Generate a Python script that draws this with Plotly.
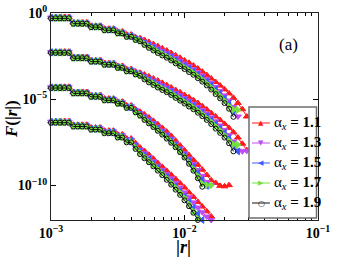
import plotly.graph_objects as go

# |r| sample positions (shared by all curves)
r = [0.001000, 0.001080, 0.001166, 0.001259, 0.001359, 0.001468, 0.001585, 0.001711,
     0.001848, 0.001995, 0.002154, 0.002326, 0.002512, 0.002712, 0.002929, 0.003162,
     0.003415, 0.003687, 0.003981, 0.004299, 0.004642, 0.005012, 0.005412, 0.005843,
     0.006310, 0.006813, 0.007356, 0.007943, 0.008577, 0.009261, 0.01000, 0.01080,
     0.01166, 0.01259, 0.01359, 0.01468, 0.01585, 0.01711, 0.01848, 0.01995, 0.02154,
     0.02326, 0.02512, 0.02712, 0.02929, 0.03162]

alpha_labels = ["1.1", "1.3", "1.5", "1.7", "1.9"]

# log10 F(|r|) values, four families of curves (top to bottom)
# ---- family 1
g1_a11 = [-0.24, -0.24, -0.24, -0.24, -0.24, -0.55, -0.55, -0.55, -0.55, -0.74, -0.74, -0.74,
          -0.91, -0.91, -0.91, -1.07, -1.07, -1.25, -1.25, -1.40, -1.46, -1.57, -1.68, -1.80,
          -1.92, -2.05, -2.18, -2.32, -2.46, -2.60, -2.75, -2.89, -3.05, -3.22, -3.40, -3.60,
          -3.80, -4.00, -4.21, -4.43, -4.66, -4.92, -5.22, -5.58, -6.00]
g1_a13 = [-0.26, -0.26, -0.26, -0.26, -0.26, -0.57, -0.57, -0.57, -0.57, -0.77, -0.77, -0.77,
          -0.94, -0.94, -0.94, -1.11, -1.11, -1.30, -1.30, -1.46, -1.52, -1.67, -1.80, -1.93,
          -2.06, -2.19, -2.32, -2.47, -2.62, -2.77, -2.93, -3.09, -3.26, -3.44, -3.63, -3.83,
          -4.05, -4.28, -4.52, -4.78, -5.08, -5.45, -6.00]
g1_a15 = [-0.28, -0.28, -0.28, -0.28, -0.28, -0.59, -0.59, -0.59, -0.59, -0.79, -0.79, -0.79,
          -0.96, -0.96, -0.96, -1.14, -1.14, -1.33, -1.33, -1.50, -1.57, -1.74, -1.88, -2.02,
          -2.16, -2.29, -2.43, -2.58, -2.74, -2.89, -3.05, -3.22, -3.39, -3.57, -3.77, -3.98,
          -4.20, -4.44, -4.68, -4.95, -5.28, -5.72]
g1_a17 = [-0.30, -0.30, -0.30, -0.30, -0.30, -0.61, -0.61, -0.61, -0.61, -0.81, -0.81, -0.81,
          -0.98, -0.98, -0.98, -1.16, -1.16, -1.36, -1.36, -1.53, -1.60, -1.79, -1.95, -2.09,
          -2.24, -2.37, -2.51, -2.66, -2.83, -2.99, -3.15, -3.32, -3.48, -3.67, -3.87, -4.09,
          -4.32, -4.57, -4.82, -5.10, -5.40, -5.60, -5.62]
g1_a19 = [-0.31, -0.31, -0.31, -0.31, -0.31, -0.62, -0.62, -0.62, -0.62, -0.82, -0.82, -0.82,
          -1.00, -1.00, -1.00, -1.18, -1.18, -1.38, -1.38, -1.56, -1.64, -1.85, -2.02, -2.17,
          -2.32, -2.46, -2.59, -2.75, -2.92, -3.08, -3.25, -3.42, -3.58, -3.78, -3.98, -4.20,
          -4.44, -4.70, -4.95, -5.22, -5.55, -6.02]
# ---- family 2
g2_a11 = [-2.24, -2.24, -2.24, -2.24, -2.24, -2.55, -2.55, -2.55, -2.55, -2.74, -2.74, -2.74,
          -2.91, -2.91, -2.91, -3.07, -3.07, -3.25, -3.25, -3.40, -3.46, -3.57, -3.68, -3.80,
          -3.92, -4.05, -4.18, -4.32, -4.46, -4.60, -4.75, -4.89, -5.05, -5.22, -5.40, -5.60,
          -5.80, -6.00, -6.21, -6.43, -6.66, -6.92, -7.22, -7.58, -7.95]
g2_a13 = [-2.26, -2.26, -2.26, -2.26, -2.26, -2.57, -2.57, -2.57, -2.57, -2.77, -2.77, -2.77,
          -2.94, -2.94, -2.94, -3.11, -3.11, -3.30, -3.30, -3.46, -3.52, -3.67, -3.80, -3.93,
          -4.06, -4.19, -4.32, -4.47, -4.62, -4.77, -4.93, -5.09, -5.26, -5.44, -5.63, -5.83,
          -6.05, -6.28, -6.52, -6.78, -7.08, -7.45, -7.98, -8.02, -7.99]
g2_a15 = [-2.28, -2.28, -2.28, -2.28, -2.28, -2.59, -2.59, -2.59, -2.59, -2.79, -2.79, -2.79,
          -2.96, -2.96, -2.96, -3.14, -3.14, -3.33, -3.33, -3.50, -3.57, -3.74, -3.88, -4.02,
          -4.16, -4.29, -4.43, -4.58, -4.74, -4.89, -5.05, -5.22, -5.39, -5.57, -5.77, -5.98,
          -6.20, -6.44, -6.68, -6.95, -7.28, -7.72, -8.02]
g2_a17 = [-2.30, -2.30, -2.30, -2.30, -2.30, -2.61, -2.61, -2.61, -2.61, -2.81, -2.81, -2.81,
          -2.98, -2.98, -2.98, -3.16, -3.16, -3.36, -3.36, -3.53, -3.60, -3.79, -3.95, -4.09,
          -4.24, -4.37, -4.51, -4.66, -4.83, -4.99, -5.15, -5.32, -5.48, -5.67, -5.87, -6.09,
          -6.32, -6.57, -6.82, -7.10, -7.40, -7.62, -7.64]
g2_a19 = [-2.31, -2.31, -2.31, -2.31, -2.31, -2.62, -2.62, -2.62, -2.62, -2.82, -2.82, -2.82,
          -3.00, -3.00, -3.00, -3.18, -3.18, -3.38, -3.38, -3.56, -3.64, -3.85, -4.02, -4.17,
          -4.32, -4.46, -4.59, -4.75, -4.92, -5.08, -5.25, -5.42, -5.58, -5.78, -5.98, -6.20,
          -6.44, -6.70, -6.95, -7.22, -7.55, -8.02]
# ---- family 3
g3_a11 = [-4.28, -4.28, -4.28, -4.28, -4.28, -4.58, -4.58, -4.58, -4.58, -4.77, -4.77, -4.77,
          -4.96, -4.96, -4.96, -5.14, -5.14, -5.36, -5.36, -5.58, -5.72, -5.88, -6.06, -6.25,
          -6.45, -6.66, -6.88, -7.12, -7.40, -7.68, -7.96, -8.24, -8.52, -8.80, -9.08, -9.39,
          -9.70, -9.85, -10.02, -10.05, -9.98]
g3_a13 = [-4.30, -4.30, -4.30, -4.30, -4.30, -4.60, -4.60, -4.60, -4.60, -4.80, -4.80, -4.80,
          -4.99, -4.99, -4.99, -5.18, -5.18, -5.41, -5.41, -5.64, -5.80, -5.99, -6.18, -6.38,
          -6.59, -6.81, -7.04, -7.29, -7.56, -7.84, -8.13, -8.44, -8.76, -9.10, -9.45, -9.80,
          -9.98]
g3_a15 = [-4.32, -4.32, -4.32, -4.32, -4.32, -4.62, -4.62, -4.62, -4.62, -4.82, -4.82, -4.82,
          -5.02, -5.02, -5.02, -5.21, -5.21, -5.45, -5.45, -5.69, -5.87, -6.08, -6.28, -6.48,
          -6.70, -6.92, -7.15, -7.40, -7.67, -7.95, -8.25, -8.58, -8.93, -9.30, -9.68, -10.02]
g3_a17 = [-4.34, -4.34, -4.34, -4.34, -4.34, -4.64, -4.64, -4.64, -4.64, -4.84, -4.84, -4.84,
          -5.04, -5.04, -5.04, -5.24, -5.24, -5.48, -5.48, -5.73, -5.91, -6.14, -6.34, -6.55,
          -6.77, -6.99, -7.22, -7.46, -7.73, -8.01, -8.32, -8.66, -9.04, -9.45, -9.90, -9.97,
          -9.99]
g3_a19 = [-4.35, -4.35, -4.35, -4.35, -4.35, -4.66, -4.66, -4.66, -4.66, -4.86, -4.86, -4.86,
          -5.06, -5.06, -5.06, -5.26, -5.26, -5.50, -5.50, -5.76, -5.95, -6.20, -6.40, -6.61,
          -6.83, -7.05, -7.28, -7.52, -7.78, -8.06, -8.38, -8.74, -9.14, -9.58, -10.07]
# ---- family 4
g4_a11 = [-6.28, -6.28, -6.28, -6.28, -6.28, -6.48, -6.48, -6.48, -6.48, -6.64, -6.64, -6.64,
          -6.82, -6.82, -6.82, -7.04, -7.04, -7.28, -7.28, -7.55, -7.80, -8.00, -8.22, -8.45,
          -8.70, -8.92, -9.15, -9.38, -9.62, -9.87, -10.12, -10.40, -10.66, -10.95, -11.22,
          -11.50, -11.80]
g4_a13 = [-6.30, -6.30, -6.30, -6.30, -6.30, -6.51, -6.51, -6.51, -6.51, -6.68, -6.68, -6.68,
          -6.86, -6.86, -6.86, -7.09, -7.09, -7.34, -7.34, -7.63, -7.92, -8.13, -8.36, -8.60,
          -8.85, -9.09, -9.34, -9.59, -9.85, -10.12, -10.40, -10.68, -10.98, -11.28, -11.55,
          -11.80, -12.00]
g4_a15 = [-6.32, -6.32, -6.32, -6.32, -6.32, -6.54, -6.54, -6.54, -6.54, -6.71, -6.71, -6.71,
          -6.90, -6.90, -6.90, -7.14, -7.14, -7.40, -7.40, -7.72, -8.02, -8.25, -8.49, -8.74,
          -8.99, -9.24, -9.50, -9.77, -10.05, -10.34, -10.64, -10.96, -11.30, -11.65, -12.00]
g4_a17 = [-6.34, -6.34, -6.34, -6.34, -6.34, -6.56, -6.56, -6.56, -6.56, -6.74, -6.74, -6.74,
          -6.94, -6.94, -6.94, -7.18, -7.18, -7.45, -7.45, -7.80, -8.10, -8.34, -8.57, -8.81,
          -9.06, -9.31, -9.57, -9.84, -10.12, -10.42, -10.72, -11.08, -11.50, -11.92]
g4_a19 = [-6.36, -6.36, -6.36, -6.36, -6.36, -6.58, -6.58, -6.58, -6.58, -6.76, -6.76, -6.76,
          -6.97, -6.97, -6.97, -7.22, -7.22, -7.50, -7.50, -7.88, -8.18, -8.42, -8.65, -8.89,
          -9.14, -9.40, -9.67, -9.95, -10.24, -10.54, -10.86, -11.20, -11.58, -12.00]

series = [
    ("1.1", "#ff1a1a", "triangle-up", 6, "▲", [g1_a11, g2_a11, g3_a11, g4_a11]),
    ("1.3", "#c04cf5", "triangle-down", 6, "▼", [g1_a13, g2_a13, g3_a13, g4_a13]),
    ("1.5", "#3a5cff", "triangle-left", 6, "◀", [g1_a15, g2_a15, g3_a15, g4_a15]),
    ("1.7", "#74e23c", "triangle-right", 6, "▶", [g1_a17, g2_a17, g3_a17, g4_a17]),
    ("1.9", "#111111", "circle-open", 5, "○", [g1_a19, g2_a19, g3_a19, g4_a19]),
]

FONT = "Liberation Serif"
fig = go.Figure()
for label, color, symbol, msize, glyph, fams in series:
    for k, logF in enumerate(fams):
        fig.add_trace(go.Scatter(
            x=r[:len(logF)], y=[10 ** v for v in logF],
            mode="lines+markers",
            line=dict(color=color, width=1),
            marker=dict(symbol=symbol, size=msize, color=color,
                        line=dict(color=color, width=1)),
            name="α_x = " + label, showlegend=False, cliponaxis=False,
        ))

# ---- compact legend box and titles (placed in paper coordinates)
L, R, T, B = 51, 318, 13, 220          # plot area in pixels
def px(xp): return (xp - L) / (R - L)
def py(yp): return (B - yp) / (B - T)

shapes = [dict(type="rect", xref="paper", yref="paper", layer="above",
               x0=px(249), x1=px(316.5), y0=py(218), y1=py(107),
               line=dict(color="#6e6e6e", width=1.5), fillcolor="white")]
annotations = [
    dict(text="(a)", x=px(300), y=py(33), xref="paper", yref="paper",
         showarrow=False, font=dict(family=FONT, size=17)),
    dict(text="<b>|<i>r</i>|</b>", x=px(183), y=py(257.5), xref="paper", yref="paper",
         showarrow=False, xanchor="center", yanchor="bottom", borderpad=0,
         font=dict(family=FONT, size=18)),
    dict(text="<b><i>F</i>(|<i>r</i>|)</b>", x=px(11), y=py(119), xref="paper", yref="paper",
         showarrow=False, xanchor="center", yanchor="middle", textangle=-90,
         font=dict(family=FONT, size=17)),
]
row_y = [123, 143, 163, 183, 203]
for (label, color, symbol, msize, glyph, fams), yy in zip(series, row_y):
    shapes.append(dict(type="line", xref="paper", yref="paper", layer="above",
                       x0=px(252), x1=px(270), y0=py(yy), y1=py(yy),
                       line=dict(color=color, width=1)))
    annotations.append(dict(text=glyph, x=px(261), y=py(yy), xref="paper", yref="paper",
                            showarrow=False, xanchor="center", yanchor="middle",
                            font=dict(family="DejaVu Sans", size=7 if glyph != "○" else 8,
                                      color=color)))
    annotations.append(dict(text="α<sub><i>x</i></sub><b> = " + label + "</b>",
                            x=px(272), y=py(yy), xref="paper", yref="paper",
                            showarrow=False, xanchor="left", yanchor="middle",
                            font=dict(family=FONT, size=15, color="black")))

minor_x = [m * 10 ** e for e in (-3, -2) for m in range(2, 10)]
fig.update_layout(
    width=354, height=258,
    margin=dict(l=51, r=36, t=13, b=38, autoexpand=False),
    paper_bgcolor="white", plot_bgcolor="white",
    font=dict(family=FONT, color="black", size=14),
    showlegend=False,
    shapes=shapes, annotations=annotations,
    xaxis=dict(type="log", range=[-3, -1], automargin=False,
               tickmode="array", tickvals=[1e-3, 1e-2, 1e-1],
               ticktext=["<b>10<sup>−3</sup></b>", "<b>10<sup>−2</sup></b>", "<b>10<sup>−1</sup></b>"],
               ticks="inside", ticklen=5, tickcolor="black",
               minor=dict(tickmode="array", tickvals=minor_x, ticks="inside",
                          ticklen=3, tickcolor="black", showgrid=False),
               showline=True, linecolor="#222222", linewidth=1.3, mirror="ticks",
               showgrid=False, zeroline=False),
    yaxis=dict(type="log", range=[-12, 0], automargin=False,
               tickmode="array", tickvals=[1, 1e-5, 1e-10],
               ticktext=["<b>10<sup>0</sup></b>", "<b>10<sup>−5</sup></b>", "<b>10<sup>−10</sup></b>"],
               ticks="inside", ticklen=5, tickcolor="black",
               showline=True, linecolor="#222222", linewidth=1.3, mirror="ticks",
               showgrid=False, zeroline=False),
)

fig.write_html("out.html", config={"displayModeBar": False},
               post_script="document.body.style.margin='0';document.body.style.padding='0';")
